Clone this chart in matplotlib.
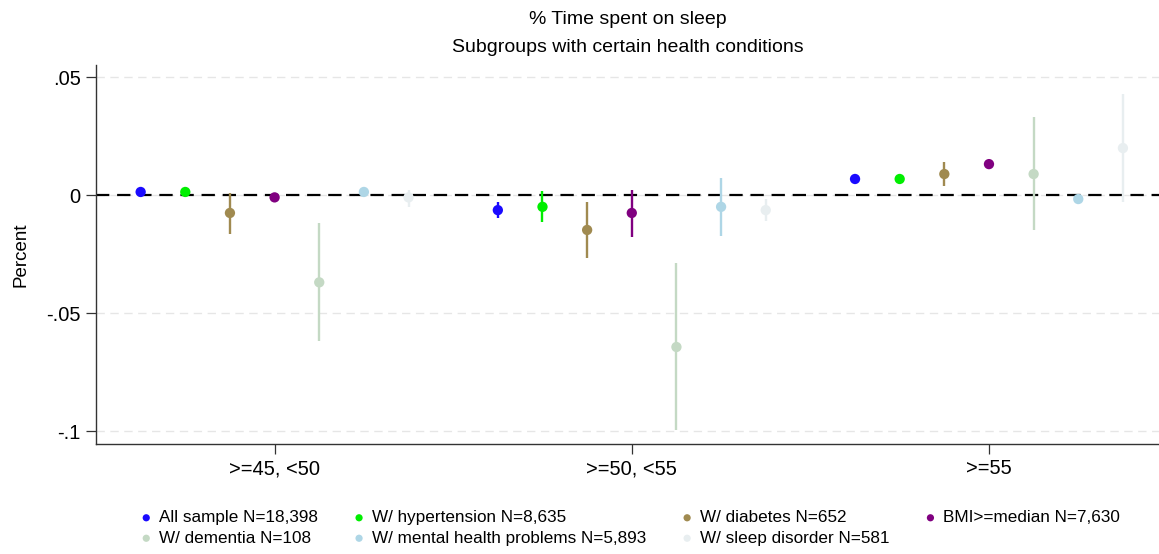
import matplotlib
matplotlib.use("Agg")
import matplotlib.pyplot as plt
import numpy as np

plt.rcParams["font.family"] = ["Liberation Sans", "DejaVu Sans"]

# age groups on the x axis
groups = [">=45, <50", ">=50, <55", ">=55"]

# subgroups (legend order row by row)
labels = ["All sample N=18,398", "W/ hypertension N=8,635", "W/ diabetes N=652",
          "BMI>=median N=7,630", "W/ dementia N=108",
          "W/ mental health problems N=5,893", "W/ sleep disorder N=581"]
colors = ["#1a0aff", "#00ee00", "#a08a50", "#800080", "#c4d9c4", "#aed6e6", "#e8eef0"]

# point estimates, one list per subgroup (values for the three age groups)
est = [
    [0.0013, -0.0064, 0.0068],
    [0.0013, -0.0050, 0.0068],
    [-0.0076, -0.0148, 0.0089],
    [-0.0010, -0.0076, 0.0131],
    [-0.0370, -0.0644, 0.0089],
    [0.0013, -0.0050, -0.0017],
    [-0.0010, -0.0064, 0.0199],
]
# confidence interval bounds
ci_lo = [
    [0.0005, -0.0097, 0.0060],
    [0.0005, -0.0114, 0.0060],
    [-0.0165, -0.0267, 0.0038],
    [-0.0016, -0.0178, 0.0124],
    [-0.0620, -0.0996, -0.0148],
    [-0.0005, -0.0174, -0.0022],
    [-0.0050, -0.0110, -0.0030],
]
ci_hi = [
    [0.0021, -0.0030, 0.0076],
    [0.0021, 0.0017, 0.0076],
    [0.0010, -0.0030, 0.0140],
    [-0.0004, 0.0020, 0.0138],
    [-0.0120, -0.0288, 0.0330],
    [0.0030, 0.0072, -0.0012],
    [0.0020, -0.0017, 0.0428],
]
offsets = [-0.375, -0.25, -0.125, 0.0, 0.125, 0.25, 0.375]

fig = plt.figure(figsize=(11.59, 5.54), dpi=100)
ax = fig.add_axes([96 / 1159, 110 / 554, 1 - 96 / 1159, (444 - 65) / 554])

base = np.arange(1, len(groups) + 1)
handles = []
for i, lab in enumerate(labels):
    x = base + offsets[i]
    ax.vlines(x, ci_lo[i], ci_hi[i], color=colors[i], lw=1.7, zorder=3)
    h = ax.scatter(x, est[i], s=55, color=colors[i], zorder=4, label=lab, edgecolors="none")
    handles.append(h)

ax.axhline(0, color="black", lw=1.6, ls=(0, (6, 3.5)), zorder=2)

ax.set_xlim(0.5, 3.476)
ax.set_ylim(-0.1055, 0.0551)
ax.set_xticks(base)
ax.set_xticklabels(groups, fontsize=14.5)
yt = [0.05, 0, -0.05, -0.1]
ax.set_yticks(yt)
ax.set_yticklabels([".05", "0", "-.05", "-.1"], fontsize=14.5)
ax.tick_params(length=7, width=0.9, color="#333333", pad=4)
ax.yaxis.grid(True, color="#e6e6e6", lw=1, ls=(0, (6, 4)))
ax.set_axisbelow(True)
for s in ["top", "right"]:
    ax.spines[s].set_visible(False)
for s in ["left", "bottom"]:
    ax.spines[s].set_color("#333333")
    ax.spines[s].set_linewidth(1)
ax.set_ylabel("Percent", fontsize=13.5, labelpad=12)

fig.text(628 / 1159, 1 - 19 / 554, "% Time spent on sleep", ha="center", va="center", fontsize=14)
fig.text(628 / 1159, 1 - 48 / 554, "Subgroups with certain health conditions",
         ha="center", va="center", fontsize=14)

# column-wise fill: 2 rows x 4 columns
order = [0, 4, 1, 5, 2, 6, 3]
fig.legend([handles[k] for k in order], [labels[k] for k in order],
           ncol=4, frameon=False, loc="center left", bbox_to_anchor=(136 / 1159, 1 - 528 / 554),
           fontsize=12.3, handletextpad=0.15, columnspacing=1.8, labelspacing=0.32,
           markerscale=0.7, handlelength=1.2, borderpad=0, borderaxespad=0)

fig.savefig("out.png", dpi=100)
